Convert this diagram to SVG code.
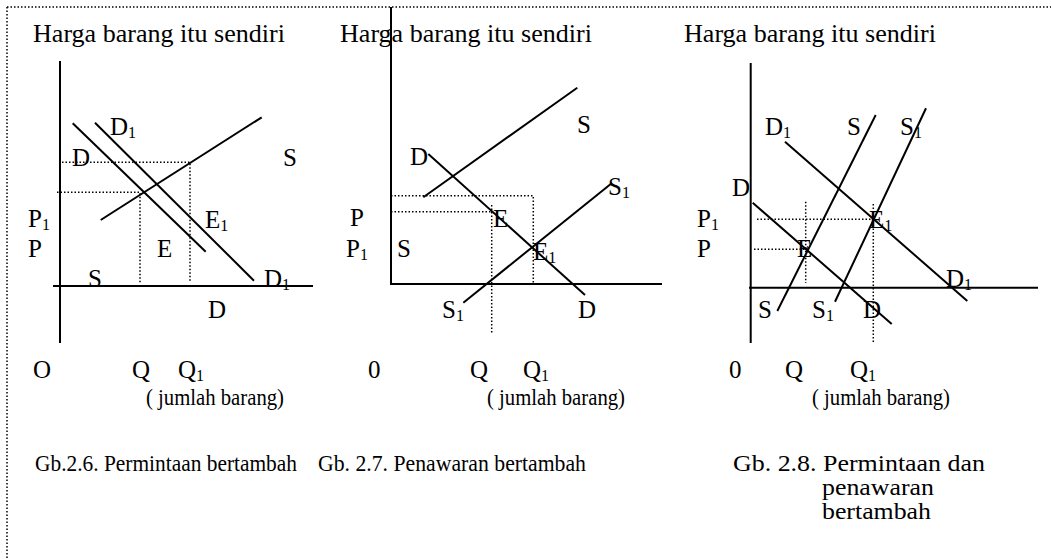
<svg xmlns="http://www.w3.org/2000/svg" width="1051" height="559" viewBox="0 0 1051 559">
<style>
.t{font-family:'Liberation Serif','Times New Roman','DejaVu Serif',serif;fill:#000;font-size:25px}
.title{font-size:25px}
.cap{font-size:24px}
.sub{font-size:16px}
.ln{stroke:#000;stroke-width:2;fill:none}
.dt{stroke:#000;stroke-width:1.5;stroke-dasharray:1.5 2;fill:none}
</style>
<rect width="1051" height="559" fill="#fff"/>
<g id="border"><path class="dt" d="M7,7H1051M7,7V559"/></g>

<g id="panel1" class="t">
<text class="title" x="33" y="42" textLength="252" lengthAdjust="spacingAndGlyphs">Harga barang itu sendiri</text>
<g id="p1-axes"><path class="ln" d="M60,61V343M53,286H313"/></g>
<g id="p1-connectors">
<path class="ln" d="M72.7,123.3L205.7,251.7"/>
<path class="ln" d="M95,122.7L254,280.7"/>
<path class="ln" d="M261.7,117.3L100.7,220"/>
<path class="dt" d="M62,162.3H190V281M57,192.3H140V283"/>
</g>
<text x="110" y="135">D<tspan class="sub" dy="3">1</tspan></text>
<text x="72" y="166">D</text>
<text x="283" y="166">S</text>
<text x="28" y="227">P<tspan class="sub" dy="3">1</tspan></text>
<text x="28" y="257">P</text>
<text x="205" y="228">E<tspan class="sub" dy="3">1</tspan></text>
<text x="157" y="257">E</text>
<text x="88" y="287">S</text>
<text x="264" y="287">D<tspan class="sub" dy="3">1</tspan></text>
<text x="208" y="318">D</text>
<text x="33" y="378">O</text>
<text x="132" y="378">Q</text>
<text x="178" y="378">Q<tspan class="sub" dy="3">1</tspan></text>
<text class="cap" x="146" y="405" textLength="138" lengthAdjust="spacingAndGlyphs">( jumlah barang)</text>
<text class="cap" x="35" y="471" textLength="262" lengthAdjust="spacingAndGlyphs">Gb.2.6. Permintaan bertambah</text>
</g>

<g id="panel2" class="t">
<text class="title" x="340" y="42" textLength="252" lengthAdjust="spacingAndGlyphs">Harga barang itu sendiri</text>
<g id="p2-axes"><path class="ln" d="M391,7V284H662"/></g>
<g id="p2-connectors">
<path class="ln" d="M577.3,87.7L423.3,197.3"/>
<path class="ln" d="M428.3,154L585,295"/>
<path class="ln" d="M612,183L463.3,302.7"/>
<path class="dt" d="M391,195.7H533.3V283M391,211.7H491.7M491.7,205V334"/>
</g>
<text x="577" y="133">S</text>
<text x="410" y="165">D</text>
<text x="608" y="195">S<tspan class="sub" dy="3">1</tspan></text>
<text x="350" y="226">P</text>
<text x="346" y="257">P<tspan class="sub" dy="3">1</tspan></text>
<text x="397" y="257">S</text>
<text x="493" y="227">E</text>
<text x="533" y="260">E<tspan class="sub" dy="3">1</tspan></text>
<text x="442" y="318">S<tspan class="sub" dy="3">1</tspan></text>
<text x="578" y="318">D</text>
<text x="368" y="378">0</text>
<text x="470" y="378">Q</text>
<text x="523" y="378">Q<tspan class="sub" dy="3">1</tspan></text>
<text class="cap" x="487" y="405" textLength="138" lengthAdjust="spacingAndGlyphs">( jumlah barang)</text>
<text class="cap" x="318" y="471" textLength="268" lengthAdjust="spacingAndGlyphs">Gb. 2.7. Penawaran bertambah</text>
</g>

<g id="panel3" class="t">
<text class="title" x="684" y="42" textLength="252" lengthAdjust="spacingAndGlyphs">Harga barang itu sendiri</text>
<g id="p3-axes"><path class="ln" d="M750.7,63V343M749,287.7H1038"/></g>
<g id="p3-connectors">
<path class="ln" d="M785,141.7L967.3,301"/>
<path class="ln" d="M752.7,202.7L891.7,324"/>
<path class="ln" d="M875.7,115L777.3,311"/>
<path class="ln" d="M926,108.3L835,301.7"/>
<path class="dt" d="M757,219.3H872.7M754,249.3H806M805.7,201.7V283M873.3,204V343"/>
</g>
<text x="765" y="135">D<tspan class="sub" dy="3">1</tspan></text>
<text x="847" y="135">S</text>
<text x="900" y="135">S<tspan class="sub" dy="3">1</tspan></text>
<text x="732" y="196">D</text>
<text x="697" y="227">P<tspan class="sub" dy="3">1</tspan></text>
<text x="697" y="257">P</text>
<text x="869" y="228">E<tspan class="sub" dy="3">1</tspan></text>
<text x="797" y="257">E</text>
<text x="946" y="287">D<tspan class="sub" dy="3">1</tspan></text>
<text x="758" y="318">S</text>
<text x="812" y="318">S<tspan class="sub" dy="3">1</tspan></text>
<text x="863" y="318">D</text>
<text x="729" y="378">0</text>
<text x="785" y="378">Q</text>
<text x="850" y="378">Q<tspan class="sub" dy="3">1</tspan></text>
<text class="cap" x="812" y="405" textLength="138" lengthAdjust="spacingAndGlyphs">( jumlah barang)</text>
<text class="cap" x="733" y="471" textLength="252" lengthAdjust="spacingAndGlyphs">Gb. 2.8. Permintaan dan</text>
<text class="cap" x="822" y="495" textLength="112" lengthAdjust="spacingAndGlyphs">penawaran</text>
<text class="cap" x="822" y="519" textLength="109" lengthAdjust="spacingAndGlyphs">bertambah</text>
</g>
</svg>
